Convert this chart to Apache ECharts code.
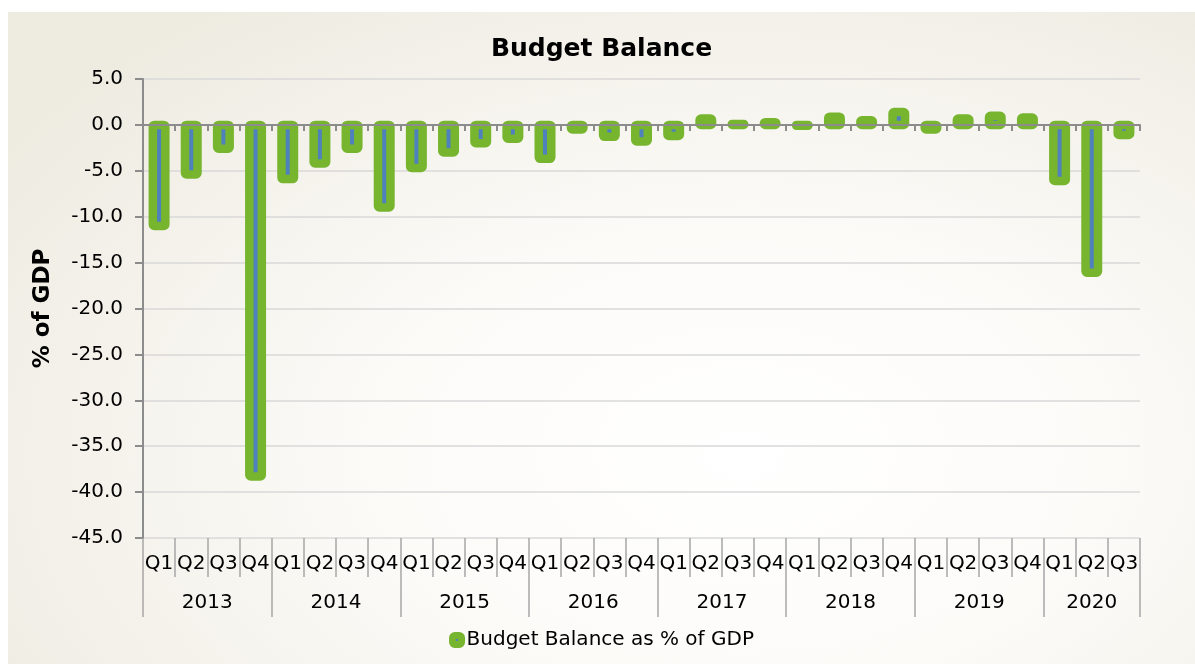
<!DOCTYPE html>
<html>
<head>
<meta charset="utf-8">
<title>Budget Balance</title>
<script src="https://cdn.jsdelivr.net/npm/echarts@6/dist/echarts.min.js"></script>
<style>
  html, body { margin: 0; padding: 0; background: #ffffff; }
  #frame {
    position: absolute; left: 8px; top: 12px; width: 1187px; height: 652px;
    background: radial-gradient(ellipse 75% 85% at 62% 68%, #ffffff 0%, #fcfbf8 40%, #eeebe1 100%);
  }
  #chart { position: absolute; left: 0; top: 0; width: 1187px; height: 652px; }
</style>
</head>
<body>
<div id="frame"><div id="chart"></div></div>
<script>
// Quarterly budget balance, % of GDP
const years = ['2013', '2014', '2015', '2016', '2017', '2018', '2019', '2020'];
const quartersPerYear = [4, 4, 4, 4, 4, 4, 4, 3];
const quarterNames = ['Q1', 'Q2', 'Q3', 'Q4'];
const balance = [
  -11.0, -5.4, -2.6, -38.3,
  -5.9, -4.2, -2.6, -9.0,
  -4.7, -3.0, -2.0, -1.5,
  -3.7, -0.5, -1.3, -1.8,
  -1.2, 0.7, 0.1, 0.3,
  -0.1, 0.9, 0.5, 1.4,
  -0.5, 0.7, 1.0, 0.8,
  -6.1, -16.1, -1.1
];
const yTicks = { min: -45, max: 5, step: 5 };
const seriesName = 'Budget Balance as % of GDP';

// Quarter labels and year group boundaries
const quarters = [];
const yearEdges = [0];
const yearCenters = [];
quartersPerYear.forEach(function (n) {
  for (let q = 0; q < n; q++) quarters.push(quarterNames[q]);
  const start = yearEdges[yearEdges.length - 1];
  yearCenters.push(start + n / 2);
  yearEdges.push(start + n);
});

const GREEN = '#77b52f';
const BLUE = '#4f81bd';
const AXIS_GREY = '#8c8c8c';
const SEP_GREY = '#a6a6a6';
const FONT = 'DejaVu Sans';
const BAR_WIDTH = 12.5;
const BAR_OUTLINE = 8.5;

const chart = echarts.init(document.getElementById('chart'), null, { renderer: 'canvas' });

chart.setOption({
  animation: false,
  title: {
    text: 'Budget Balance',
    left: 'center',
    top: 25,
    padding: 0,
    textStyle: { fontFamily: FONT, fontWeight: 'bold', fontSize: 25, color: '#000' }
  },
  legend: {
    data: [seriesName],
    left: 'center',
    top: 613,
    icon: 'roundRect',
    itemWidth: 9,
    itemHeight: 9,
    itemStyle: { color: BLUE, borderColor: GREEN, borderWidth: 7, borderJoin: 'round' },
    textStyle: { fontFamily: FONT, fontSize: 20, color: '#000' }
  },
  grid: { left: 135, right: 55, top: 67, bottom: 126, containLabel: false },
  xAxis: [
    {
      // zero line with quarter ticks
      type: 'category',
      data: quarters,
      position: 'bottom',
      z: 3,
      axisLine: { show: true, onZero: true, lineStyle: { color: AXIS_GREY, width: 2 } },
      axisTick: { show: true, interval: 0, length: 6, lineStyle: { color: AXIS_GREY, width: 2 } },
      axisLabel: { show: false },
      splitLine: { show: false }
    },
    {
      // quarter row below the plot
      type: 'category',
      data: quarters,
      position: 'bottom',
      axisLine: { show: false, onZero: false },
      axisTick: { show: true, interval: 0, length: 39, lineStyle: { color: SEP_GREY, width: 1.5 } },
      axisLabel: { show: true, interval: 0, margin: 16, fontFamily: FONT, fontSize: 20, color: '#000' },
      splitLine: { show: false }
    },
    {
      // year row below the quarters
      type: 'value',
      min: 0,
      max: quarters.length,
      position: 'bottom',
      axisLine: { show: false, onZero: false },
      axisTick: { show: true, customValues: yearEdges, length: 79, lineStyle: { color: SEP_GREY, width: 1.5 } },
      axisLabel: {
        show: true,
        customValues: yearCenters,
        margin: 55,
        fontFamily: FONT, fontSize: 20, color: '#000',
        formatter: function (v) {
          const i = yearCenters.indexOf(v);
          return i >= 0 ? years[i] : '';
        }
      },
      splitLine: { show: false }
    }
  ],
  yAxis: {
    type: 'value',
    min: yTicks.min,
    max: yTicks.max,
    interval: yTicks.step,
    name: '% of GDP',
    nameLocation: 'middle',
    nameGap: 88,
    nameTextStyle: { fontFamily: FONT, fontWeight: 'bold', fontSize: 23, color: '#000' },
    axisLine: { show: true, lineStyle: { color: AXIS_GREY, width: 2 } },
    axisTick: { show: true, length: 8, lineStyle: { color: AXIS_GREY, width: 2 } },
    axisLabel: {
      margin: 20, fontFamily: FONT, fontSize: 20, color: '#000',
      formatter: function (v) { return v.toFixed(1); }
    },
    splitLine: { show: true, lineStyle: { color: '#d9d9d9', width: 1.5 } }
  },
  series: [{
    // bars with a wide green outline straddling the bar edge
    name: seriesName,
    type: 'custom',
    xAxisIndex: 0,
    yAxisIndex: 0,
    encode: { x: 0, y: 1 },
    data: balance.map(function (v, i) { return [i, v]; }),
    itemStyle: { color: BLUE, borderColor: GREEN },
    renderItem: function (params, api) {
      const idx = api.value(0);
      const base = api.coord([idx, 0]);
      const top = api.coord([idx, api.value(1)]);
      const h = Math.abs(top[1] - base[1]);
      return {
        type: 'rect',
        shape: {
          x: base[0] - BAR_WIDTH / 2,
          y: Math.min(base[1], top[1]),
          width: BAR_WIDTH,
          height: h,
          r: Math.min(1.5, h / 2)
        },
        style: { fill: BLUE, stroke: GREEN, lineWidth: BAR_OUTLINE, lineJoin: 'round' }
      };
    },
    emphasis: { disabled: true }
  }]
});
</script>
</body>
</html>
